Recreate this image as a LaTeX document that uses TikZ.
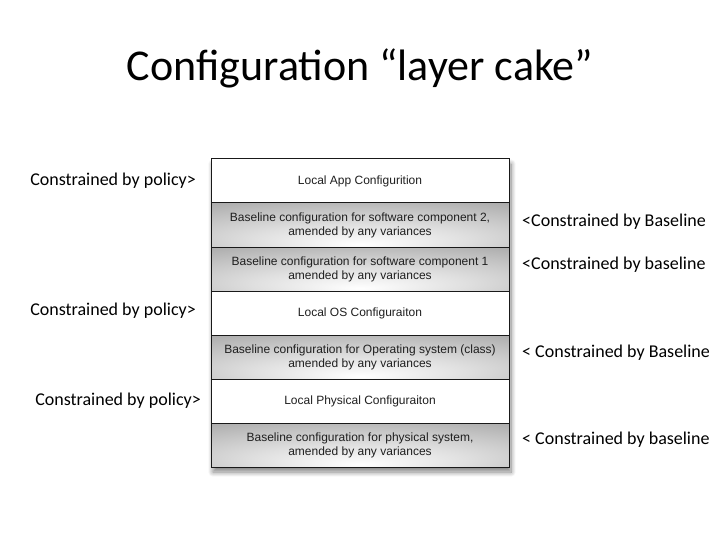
\documentclass[tikz,border=0pt]{standalone}
\usepackage{fontspec}
\setmainfont{Carlito}
\newfontfamily\boxfont{Liberation Sans}
\usetikzlibrary{positioning,shadows.blur,backgrounds}

\pgfdeclareradialshading{layergray}{\pgfpoint{0bp}{-22bp}}{%
  color(0bp)=(white); color(18bp)=(gray!25); color(45bp)=(gray!68); color(80bp)=(gray!74)}

\begin{document}
\begin{tikzpicture}[x=1pt,y=-1pt,
      layer/.style = {shape=rectangle, draw=black!90, line width=1pt,
                      minimum width=298pt, minimum height=44pt,
                      inner sep=0pt, outer sep=0pt, align=center,
                      font=\boxfont\fontsize{12}{14}\selectfont, text=black!88},
      plain/.style = {layer, fill=white},
      base/.style  = {layer, shading=layergray},
      side/.style  = {font=\fontsize{18}{22}\selectfont, inner sep=0pt}
    ]
    \useasboundingbox (0,0) rectangle (720,540);

    \node[font=\fontsize{44}{50}\selectfont] (title) at (360,68) {Configuration “layer cake”};

    \node[plain] (app) at (360,181) {Local App Configurition};
    \node[base, below=0pt of app] (sw2) {Baseline configuration for software component 2,\\ amended by any variances};
    \node[base, below=0pt of sw2] (sw1) {Baseline configuration for software component 1\\ amended by any variances};
    \node[plain, below=0pt of sw1] (os) {Local OS Configuraiton};
    \node[base, below=0pt of os] (osbase) {Baseline configuration for Operating system (class)\\ amended by any variances};
    \node[plain, below=0pt of osbase] (phys) {Local Physical Configuraiton};
    \node[base, below=0pt of phys] (physbase) {Baseline configuration for physical system,\\ amended by any variances};

    \begin{scope}[on background layer]
      \fill[white, blur shadow={shadow xshift=2pt, shadow yshift=-5pt, shadow blur steps=10, shadow blur radius=5pt, shadow opacity=50}]
        (app.north west) rectangle (physbase.south east);
    \end{scope}

    % policy on the left
    \node[side, left=15pt of app] (pol1) {Constrained by policy>};
    \node[side, left=15pt of os, yshift=2pt] (pol2) {Constrained by policy>};
    \node[side, left=10pt of phys] (pol3) {Constrained by policy>};

    % baselines on the right
    \node[side, right=13pt of sw2, yshift=3pt] (bl1) {<Constrained by Baseline};
    \node[side, right=13pt of sw1, yshift=4pt] (bl2) {<Constrained by baseline};
    \node[side, right=13pt of osbase, yshift=4pt] (bl3) {< Constrained by Baseline};
    \node[side, right=13pt of physbase, yshift=5pt] (bl4) {< Constrained by baseline};
\end{tikzpicture}
\end{document}
